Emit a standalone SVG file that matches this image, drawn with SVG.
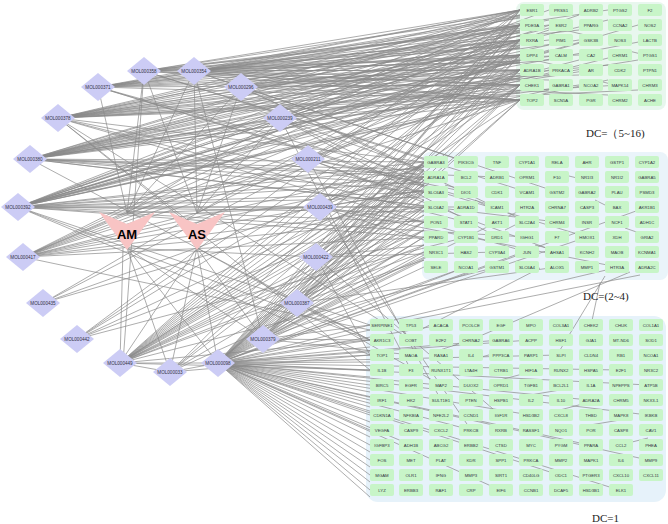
<svg xmlns="http://www.w3.org/2000/svg" width="668" height="524" viewBox="0 0 668 524">
<style>
.e{fill:none;stroke:#8a8a8a;stroke-width:0.7}
.b rect{fill:#c8f5c8}
.b text{font-family:"Liberation Sans",Arial,sans-serif;font-size:4.3px;fill:#334;text-anchor:middle}
.m polygon{fill:#ccccf5}
.m text{font-family:"Liberation Sans",Arial,sans-serif;font-size:4.6px;fill:#334;text-anchor:middle}
.h polygon{fill:#f8c4c4}
.h text{font-family:"Liberation Sans",Arial,sans-serif;font-size:13px;font-weight:bold;fill:#000;text-anchor:middle}
.dc{font-family:"Liberation Serif","Times New Roman",serif;font-size:11px;fill:#222}
</style>
<rect width="668" height="524" fill="#fff"/>
<rect x="516" y="2" width="150" height="108" rx="8" fill="#e8f7ee"/>
<rect x="422" y="152" width="246" height="128" rx="8" fill="#eaf4fa"/>
<rect x="366" y="316" width="300" height="186" rx="12" fill="#e6f2fa"/>
<g id="edges">
<path class="e" d="M18 207L520 10M18 207L520 25M18 207L520 40M18 207L520 55M18 207L520 70M18 207L520 85M18 207L520 100M18 207L590 40M18 207L620 55M18 207L424 162M18 207L424 177M18 207L424 192M18 207L424 207M18 207L424 222M18 207L424 237M18 207L370 325M18 207L370 340M18 207L370 355M18 207L466 207M18 207L527 237M18 207L549 10M18 207L549 30M18 207L549 50M18 207L549 70M18 207L549 90M18 207L579 15M18 207L579 60M18 207L608 80M18 207L638 25M18 207L424 167M18 207L424 182M18 207L424 197M18 207L424 212"/>
<path class="e" d="M30 159L520 10M30 159L520 25M30 159L520 40M30 159L520 55M30 159L520 70M30 159L520 85M30 159L520 100M30 159L561 25M30 159L590 70M30 159L649 40M30 159L424 162M30 159L424 177M30 159L424 192M30 159L436 207M30 159L497 177M30 159L557 222M30 159L370 340M30 159L520 15M30 159L520 32M30 159L520 47M30 159L520 62M30 159L520 78M30 159L520 92M30 159L549 45M30 159L579 85M30 159L608 20M30 159L638 60M30 159L424 170M30 159L424 185"/>
<path class="e" d="M58 118L520 10M58 118L520 25M58 118L520 40M58 118L520 55M58 118L520 70M58 118L520 85M58 118L520 100M58 118L561 55M58 118L620 85M58 118L424 162M58 118L424 192M58 118L466 222M58 118L527 252M58 118L370 370M58 118L411 340M58 118L200 230M58 118L520 17M58 118L520 32M58 118L520 48M58 118L520 63M58 118L520 78M58 118L520 93M58 118L549 20M58 118L579 40M58 118L608 65M58 118L638 90"/>
<path class="e" d="M98 87L520 10M98 87L520 25M98 87L520 40M98 87L520 55M98 87L520 70M98 87L520 85M98 87L520 100M98 87L424 177M98 87L497 207M98 87L587 237M98 87L127 213M98 87L520 18M98 87L520 33M98 87L520 48M98 87L520 63M98 87L549 40M98 87L579 75M98 87L608 10"/>
<path class="e" d="M144 71L520 10M144 71L520 25M144 71L520 40M144 71L520 55M144 71L520 70M144 71L520 85M144 71L520 100M144 71L436 162M144 71L527 192M144 71L127 213M144 71L123 363M144 71L197 213M144 71L520 15M144 71L520 30M144 71L520 45M144 71L520 62M144 71L549 25M144 71L579 55M144 71L608 95"/>
<path class="e" d="M194 71L520 10M194 71L520 25M194 71L520 40M194 71L520 55M194 71L520 70M194 71L520 85M194 71L520 100M194 71L466 162M194 71L557 192M194 71L197 213M194 71L127 213M194 71L263 339M194 71L520 16M194 71L520 31M194 71L520 46M194 71L520 61M194 71L549 80M194 71L579 30"/>
<path class="e" d="M241 87L520 10M241 87L520 40M241 87L520 70M241 87L520 100M241 87L436 177M241 87L527 222M241 87L197 213M241 87L127 213M241 87L520 25M241 87L520 55M241 87L520 85M241 87L549 60"/>
<path class="e" d="M280 118L520 10M280 118L520 55M280 118L520 100M280 118L436 192M280 118L497 237M280 118L197 213M280 118L127 213M280 118L411 370M280 118L520 30M280 118L520 75M280 118L424 170"/>
<path class="e" d="M308 159L520 25M308 159L520 70M308 159L466 192M308 159L557 252M308 159L197 213M308 159L127 213M308 159L441 400M308 159L520 45M308 159L520 90M308 159L424 180M308 159L424 200"/>
<path class="e" d="M320 207L520 40M320 207L520 85M320 207L424 222M320 207L617 267M320 207L197 213M320 207L127 213M320 207L471 430M320 207L424 165M320 207L424 190M320 207L424 240"/>
<path class="e" d="M23 257L520 10M23 257L520 25M23 257L520 40M23 257L520 55M23 257L520 70M23 257L520 85M23 257L520 100M23 257L424 177M23 257L424 207M23 257L436 237M23 257L127 213M23 257L197 213M23 257L424 165M23 257L424 190M23 257L424 220M23 257L370 330"/>
<path class="e" d="M43 303L520 25M43 303L520 55M43 303L436 162M43 303L424 192"/>
<path class="e" d="M77 339L520 10M77 339L520 40M77 339L520 70M77 339L424 177M77 339L424 207M77 339L466 237"/>
<path class="e" d="M120 363L520 10M120 363L520 25M120 363L520 40M120 363L520 55M120 363L520 70M120 363L520 85M120 363L520 100M120 363L424 162M120 363L424 177M120 363L424 192M120 363L424 207M120 363L424 222M120 363L424 252M120 363L497 267M120 363L370 340M120 363L370 370M120 363L123 248M120 363L197 248M120 363L170 372M120 363L218 363M120 363L424 170M120 363L424 185M120 363L424 215M120 363L424 230M120 363L424 245"/>
<path class="e" d="M170 372L520 25M170 372L520 70M170 372L424 177M170 372L424 222M170 372L436 252M170 372L370 355M170 372L197 248M170 372L127 248M170 372L218 363"/>
<path class="e" d="M263 339L520 10M263 339L520 40M263 339L520 85M263 339L424 192M263 339L424 237M263 339L466 267M263 339L527 207M263 339L370 325M263 339L411 355M263 339L197 248M263 339L127 248M263 339L424 170M263 339L424 210M263 339L424 255M263 339L370 340"/>
<path class="e" d="M297 303L520 55M297 303L520 100M297 303L424 207M297 303L557 267M297 303L370 340M297 303L441 385M297 303L197 248M297 303L424 180M297 303L424 230M297 303L424 260"/>
<path class="e" d="M316 257L520 25M316 257L520 85M316 257L424 162M316 257L497 252M316 257L370 355M316 257L500 415M316 257L127 248M316 257L424 200M316 257L424 245"/>
<path class="e" d="M218 363L520 10M218 363L520 40M218 363L520 70M218 363L520 100M218 363L424 162M218 363L424 177M218 363L424 192M218 363L424 207M218 363L424 222M218 363L424 237M218 363L424 252M218 363L424 267M218 363L466 267M218 363L527 252M218 363L587 237M218 363L647 207M218 363L370 325M218 363L370 340M218 363L370 355M218 363L370 370M218 363L370 385M218 363L370 400M218 363L370 415M218 363L370 430M218 363L370 445M218 363L370 460M218 363L370 475M218 363L370 490M218 363L441 325M218 363L500 340M218 363L559 355M218 363L619 370M218 363L648 385M218 363L589 400M218 363L530 415M218 363L471 430M218 363L411 445M218 363L648 460M218 363L559 475M218 363L500 490M218 363L619 490M218 363L648 415M218 363L530 340M218 363L589 445M218 363L197 248M218 363L127 248M218 363L370 330M218 363L370 347M218 363L370 362M218 363L370 377M218 363L370 392M218 363L370 407M218 363L370 422M218 363L370 437M218 363L370 452M218 363L370 467M218 363L370 482M218 363L370 497M218 363L424 170M218 363L424 185M218 363L424 200M218 363L424 215M218 363L424 230M218 363L424 245M218 363L424 260M218 363L520 25M218 363L520 55M218 363L520 85"/>
<path class="e" d="M394 320L619 267M400 322L640 275M420 330L540 268M480 336L630 272M560 350L605 276M590 330L600 283M440 350L470 340M470 360L500 352M500 380L530 372M530 395L560 390M560 410L590 402M590 425L620 420M620 445L648 438M445 185L465 190M475 200L495 210M505 230L525 220M535 245L555 250M565 175L585 180M595 200L615 210M625 228L645 235M535 60L555 65M565 30L585 35M595 80L615 85M625 50L645 55"/>
</g>
<g id="AM" class="h"><polygon points="99,212 127,224 155,212 127,250"/><text x="127" y="239">AM</text></g>
<g id="AS" class="h"><polygon points="169,212 197,224 225,212 197,250"/><text x="197" y="239">AS</text></g>
<g id="mol" class="m">
<g id="MOL000358"><polygon points="144,57 161,71 144,85 127,71"/><text x="144" y="72.5">MOL000358</text></g>
<g id="MOL000354"><polygon points="194,57 211,71 194,85 177,71"/><text x="194" y="72.5">MOL000354</text></g>
<g id="MOL000371"><polygon points="98,73 115,87 98,101 81,87"/><text x="98" y="88.5">MOL000371</text></g>
<g id="MOL000296"><polygon points="241,73 258,87 241,101 224,87"/><text x="241" y="88.5">MOL000296</text></g>
<g id="MOL000378"><polygon points="58,104 75,118 58,132 41,118"/><text x="58" y="119.5">MOL000378</text></g>
<g id="MOL000239"><polygon points="280,104 297,118 280,132 263,118"/><text x="280" y="119.5">MOL000239</text></g>
<g id="MOL000380"><polygon points="30,145 47,159 30,173 13,159"/><text x="30" y="160.5">MOL000380</text></g>
<g id="MOL000211"><polygon points="308,145 325,159 308,173 291,159"/><text x="308" y="160.5">MOL000211</text></g>
<g id="MOL000392"><polygon points="18,193 35,207 18,221 1,207"/><text x="18" y="208.5">MOL000392</text></g>
<g id="MOL000439"><polygon points="320,193 337,207 320,221 303,207"/><text x="320" y="208.5">MOL000439</text></g>
<g id="MOL000417"><polygon points="23,243 40,257 23,271 6,257"/><text x="23" y="258.5">MOL000417</text></g>
<g id="MOL000422"><polygon points="316,243 333,257 316,271 299,257"/><text x="316" y="258.5">MOL000422</text></g>
<g id="MOL000435"><polygon points="43,289 60,303 43,317 26,303"/><text x="43" y="304.5">MOL000435</text></g>
<g id="MOL000387"><polygon points="297,289 314,303 297,317 280,303"/><text x="297" y="304.5">MOL000387</text></g>
<g id="MOL000442"><polygon points="77,325 94,339 77,353 60,339"/><text x="77" y="340.5">MOL000442</text></g>
<g id="MOL000379"><polygon points="263,325 280,339 263,353 246,339"/><text x="263" y="340.5">MOL000379</text></g>
<g id="MOL000449"><polygon points="120,349 137,363 120,377 103,363"/><text x="120" y="364.5">MOL000449</text></g>
<g id="MOL000033"><polygon points="170,358 187,372 170,386 153,372"/><text x="170" y="373.5">MOL000033</text></g>
<g id="MOL000098"><polygon points="218,349 235,363 218,377 201,363"/><text x="218" y="364.5">MOL000098</text></g>
</g>
<g id="top" class="b">
<g id="ESR1"><rect x="520" y="4" width="24" height="12" rx="2"/><text x="532" y="11.5">ESR1</text></g>
<g id="PRSS1"><rect x="549" y="4" width="24" height="12" rx="2"/><text x="561" y="11.5">PRSS1</text></g>
<g id="ADRB2"><rect x="579" y="4" width="24" height="12" rx="2"/><text x="591" y="11.5">ADRB2</text></g>
<g id="PTGS2"><rect x="608" y="4" width="24" height="12" rx="2"/><text x="620" y="11.5">PTGS2</text></g>
<g id="F2"><rect x="638" y="4" width="24" height="12" rx="2"/><text x="650" y="11.5">F2</text></g>
<g id="PDE3A"><rect x="520" y="19" width="24" height="12" rx="2"/><text x="532" y="26.5">PDE3A</text></g>
<g id="ESR2"><rect x="549" y="19" width="24" height="12" rx="2"/><text x="561" y="26.5">ESR2</text></g>
<g id="PPARG"><rect x="579" y="19" width="24" height="12" rx="2"/><text x="591" y="26.5">PPARG</text></g>
<g id="CCNA2"><rect x="608" y="19" width="24" height="12" rx="2"/><text x="620" y="26.5">CCNA2</text></g>
<g id="NOS2"><rect x="638" y="19" width="24" height="12" rx="2"/><text x="650" y="26.5">NOS2</text></g>
<g id="RXRA"><rect x="520" y="34" width="24" height="12" rx="2"/><text x="532" y="41.5">RXRA</text></g>
<g id="PIM1"><rect x="549" y="34" width="24" height="12" rx="2"/><text x="561" y="41.5">PIM1</text></g>
<g id="GSK3B"><rect x="579" y="34" width="24" height="12" rx="2"/><text x="591" y="41.5">GSK3B</text></g>
<g id="NOS3"><rect x="608" y="34" width="24" height="12" rx="2"/><text x="620" y="41.5">NOS3</text></g>
<g id="LACTB"><rect x="638" y="34" width="24" height="12" rx="2"/><text x="650" y="41.5">LACTB</text></g>
<g id="DPP4"><rect x="520" y="49" width="24" height="12" rx="2"/><text x="532" y="56.5">DPP4</text></g>
<g id="CALM"><rect x="549" y="49" width="24" height="12" rx="2"/><text x="561" y="56.5">CALM</text></g>
<g id="CA2"><rect x="579" y="49" width="24" height="12" rx="2"/><text x="591" y="56.5">CA2</text></g>
<g id="CHRM1"><rect x="608" y="49" width="24" height="12" rx="2"/><text x="620" y="56.5">CHRM1</text></g>
<g id="PTGS1"><rect x="638" y="49" width="24" height="12" rx="2"/><text x="650" y="56.5">PTGS1</text></g>
<g id="ADRA1B"><rect x="520" y="64" width="24" height="12" rx="2"/><text x="532" y="71.5">ADRA1B</text></g>
<g id="PRKACA"><rect x="549" y="64" width="24" height="12" rx="2"/><text x="561" y="71.5">PRKACA</text></g>
<g id="AR"><rect x="579" y="64" width="24" height="12" rx="2"/><text x="591" y="71.5">AR</text></g>
<g id="CDK2"><rect x="608" y="64" width="24" height="12" rx="2"/><text x="620" y="71.5">CDK2</text></g>
<g id="PTPN1"><rect x="638" y="64" width="24" height="12" rx="2"/><text x="650" y="71.5">PTPN1</text></g>
<g id="CHEK1"><rect x="520" y="79" width="24" height="12" rx="2"/><text x="532" y="86.5">CHEK1</text></g>
<g id="GABRA1"><rect x="549" y="79" width="24" height="12" rx="2"/><text x="561" y="86.5">GABRA1</text></g>
<g id="NCOA2"><rect x="579" y="79" width="24" height="12" rx="2"/><text x="591" y="86.5">NCOA2</text></g>
<g id="MAPK14"><rect x="608" y="79" width="24" height="12" rx="2"/><text x="620" y="86.5">MAPK14</text></g>
<g id="CHRM3"><rect x="638" y="79" width="24" height="12" rx="2"/><text x="650" y="86.5">CHRM3</text></g>
<g id="TOP2"><rect x="520" y="94" width="24" height="12" rx="2"/><text x="532" y="101.5">TOP2</text></g>
<g id="SCN5A"><rect x="549" y="94" width="24" height="12" rx="2"/><text x="561" y="101.5">SCN5A</text></g>
<g id="PGR"><rect x="579" y="94" width="24" height="12" rx="2"/><text x="591" y="101.5">PGR</text></g>
<g id="CHRM2"><rect x="608" y="94" width="24" height="12" rx="2"/><text x="620" y="101.5">CHRM2</text></g>
<g id="ACHE"><rect x="638" y="94" width="24" height="12" rx="2"/><text x="650" y="101.5">ACHE</text></g>
</g>
<g id="mid" class="b">
<g><rect x="424" y="156" width="24" height="12" rx="2"/><text x="436" y="163.5">GABRA3</text></g>
<g><rect x="454" y="156" width="24" height="12" rx="2"/><text x="466" y="163.5">PIK3CG</text></g>
<g><rect x="485" y="156" width="24" height="12" rx="2"/><text x="497" y="163.5">TNF</text></g>
<g><rect x="515" y="156" width="24" height="12" rx="2"/><text x="527" y="163.5">CYP1A1</text></g>
<g><rect x="545" y="156" width="24" height="12" rx="2"/><text x="557" y="163.5">RELA</text></g>
<g><rect x="575" y="156" width="24" height="12" rx="2"/><text x="587" y="163.5">AHR</text></g>
<g><rect x="605" y="156" width="24" height="12" rx="2"/><text x="617" y="163.5">GSTP1</text></g>
<g><rect x="635" y="156" width="24" height="12" rx="2"/><text x="647" y="163.5">CYP1A2</text></g>
<g><rect x="424" y="171" width="24" height="12" rx="2"/><text x="436" y="178.5">ADRA1A</text></g>
<g><rect x="454" y="171" width="24" height="12" rx="2"/><text x="466" y="178.5">BCL2</text></g>
<g><rect x="485" y="171" width="24" height="12" rx="2"/><text x="497" y="178.5">ADRB1</text></g>
<g><rect x="515" y="171" width="24" height="12" rx="2"/><text x="527" y="178.5">OPRM1</text></g>
<g><rect x="545" y="171" width="24" height="12" rx="2"/><text x="557" y="178.5">F10</text></g>
<g><rect x="575" y="171" width="24" height="12" rx="2"/><text x="587" y="178.5">NR1I3</text></g>
<g><rect x="605" y="171" width="24" height="12" rx="2"/><text x="617" y="178.5">NR1I2</text></g>
<g><rect x="635" y="171" width="24" height="12" rx="2"/><text x="647" y="178.5">GABRA5</text></g>
<g><rect x="424" y="186" width="24" height="12" rx="2"/><text x="436" y="193.5">SLC6A3</text></g>
<g><rect x="454" y="186" width="24" height="12" rx="2"/><text x="466" y="193.5">DIO1</text></g>
<g><rect x="485" y="186" width="24" height="12" rx="2"/><text x="497" y="193.5">CDK1</text></g>
<g><rect x="515" y="186" width="24" height="12" rx="2"/><text x="527" y="193.5">VCAM1</text></g>
<g><rect x="545" y="186" width="24" height="12" rx="2"/><text x="557" y="193.5">GSTM2</text></g>
<g><rect x="575" y="186" width="24" height="12" rx="2"/><text x="587" y="193.5">GABRA2</text></g>
<g><rect x="605" y="186" width="24" height="12" rx="2"/><text x="617" y="193.5">PLAU</text></g>
<g><rect x="635" y="186" width="24" height="12" rx="2"/><text x="647" y="193.5">PSMD3</text></g>
<g><rect x="424" y="201" width="24" height="12" rx="2"/><text x="436" y="208.5">SLC6A2</text></g>
<g><rect x="454" y="201" width="24" height="12" rx="2"/><text x="466" y="208.5">ADRA1D</text></g>
<g><rect x="485" y="201" width="24" height="12" rx="2"/><text x="497" y="208.5">ICAM1</text></g>
<g><rect x="515" y="201" width="24" height="12" rx="2"/><text x="527" y="208.5">HTR2A</text></g>
<g><rect x="545" y="201" width="24" height="12" rx="2"/><text x="557" y="208.5">CHRNA7</text></g>
<g><rect x="575" y="201" width="24" height="12" rx="2"/><text x="587" y="208.5">CASP3</text></g>
<g><rect x="605" y="201" width="24" height="12" rx="2"/><text x="617" y="208.5">BAX</text></g>
<g><rect x="635" y="201" width="24" height="12" rx="2"/><text x="647" y="208.5">AKR1B1</text></g>
<g><rect x="424" y="216" width="24" height="12" rx="2"/><text x="436" y="223.5">PON1</text></g>
<g><rect x="454" y="216" width="24" height="12" rx="2"/><text x="466" y="223.5">STAT1</text></g>
<g><rect x="485" y="216" width="24" height="12" rx="2"/><text x="497" y="223.5">AKT1</text></g>
<g><rect x="515" y="216" width="24" height="12" rx="2"/><text x="527" y="223.5">SLC2A4</text></g>
<g><rect x="545" y="216" width="24" height="12" rx="2"/><text x="557" y="223.5">CHRM4</text></g>
<g><rect x="575" y="216" width="24" height="12" rx="2"/><text x="587" y="223.5">INSR</text></g>
<g><rect x="605" y="216" width="24" height="12" rx="2"/><text x="617" y="223.5">NCF1</text></g>
<g><rect x="635" y="216" width="24" height="12" rx="2"/><text x="647" y="223.5">ADH1C</text></g>
<g><rect x="424" y="231" width="24" height="12" rx="2"/><text x="436" y="238.5">PPARD</text></g>
<g><rect x="454" y="231" width="24" height="12" rx="2"/><text x="466" y="238.5">CYP1B1</text></g>
<g><rect x="485" y="231" width="24" height="12" rx="2"/><text x="497" y="238.5">DRD1</text></g>
<g><rect x="515" y="231" width="24" height="12" rx="2"/><text x="527" y="238.5">IGHG1</text></g>
<g><rect x="545" y="231" width="24" height="12" rx="2"/><text x="557" y="238.5">F7</text></g>
<g><rect x="575" y="231" width="24" height="12" rx="2"/><text x="587" y="238.5">HMOX1</text></g>
<g><rect x="605" y="231" width="24" height="12" rx="2"/><text x="617" y="238.5">XDH</text></g>
<g><rect x="635" y="231" width="24" height="12" rx="2"/><text x="647" y="238.5">GRIA2</text></g>
<g><rect x="424" y="246" width="24" height="12" rx="2"/><text x="436" y="253.5">NR3C1</text></g>
<g><rect x="454" y="246" width="24" height="12" rx="2"/><text x="466" y="253.5">HAS2</text></g>
<g><rect x="485" y="246" width="24" height="12" rx="2"/><text x="497" y="253.5">CYP3A4</text></g>
<g><rect x="515" y="246" width="24" height="12" rx="2"/><text x="527" y="253.5">JUN</text></g>
<g><rect x="545" y="246" width="24" height="12" rx="2"/><text x="557" y="253.5">AHSA1</text></g>
<g><rect x="575" y="246" width="24" height="12" rx="2"/><text x="587" y="253.5">KCNH2</text></g>
<g><rect x="605" y="246" width="24" height="12" rx="2"/><text x="617" y="253.5">MAOB</text></g>
<g><rect x="635" y="246" width="24" height="12" rx="2"/><text x="647" y="253.5">KCNMA1</text></g>
<g><rect x="424" y="261" width="24" height="12" rx="2"/><text x="436" y="268.5">SELE</text></g>
<g><rect x="454" y="261" width="24" height="12" rx="2"/><text x="466" y="268.5">NCOA1</text></g>
<g><rect x="485" y="261" width="24" height="12" rx="2"/><text x="497" y="268.5">GSTM1</text></g>
<g><rect x="515" y="261" width="24" height="12" rx="2"/><text x="527" y="268.5">SLC6A4</text></g>
<g><rect x="545" y="261" width="24" height="12" rx="2"/><text x="557" y="268.5">ALOX5</text></g>
<g><rect x="575" y="261" width="24" height="12" rx="2"/><text x="587" y="268.5">MMP1</text></g>
<g><rect x="605" y="261" width="24" height="12" rx="2"/><text x="617" y="268.5">HTR3A</text></g>
<g><rect x="635" y="261" width="24" height="12" rx="2"/><text x="647" y="268.5">ADRA2C</text></g>
</g>
<g id="bot" class="b">
<g><rect x="370" y="319" width="24" height="12" rx="2"/><text x="382" y="326.5">SERPINE1</text></g>
<g><rect x="399" y="319" width="24" height="12" rx="2"/><text x="411" y="326.5">TP53</text></g>
<g><rect x="429" y="319" width="24" height="12" rx="2"/><text x="441" y="326.5">ACACA</text></g>
<g><rect x="459" y="319" width="24" height="12" rx="2"/><text x="471" y="326.5">PCOLCE</text></g>
<g><rect x="489" y="319" width="24" height="12" rx="2"/><text x="501" y="326.5">EGF</text></g>
<g><rect x="519" y="319" width="24" height="12" rx="2"/><text x="531" y="326.5">MPO</text></g>
<g><rect x="549" y="319" width="24" height="12" rx="2"/><text x="561" y="326.5">COL3A1</text></g>
<g><rect x="579" y="319" width="24" height="12" rx="2"/><text x="591" y="326.5">CHEK2</text></g>
<g><rect x="609" y="319" width="24" height="12" rx="2"/><text x="621" y="326.5">CHUK</text></g>
<g><rect x="639" y="319" width="24" height="12" rx="2"/><text x="651" y="326.5">COL1A1</text></g>
<g><rect x="370" y="334" width="24" height="12" rx="2"/><text x="382" y="341.5">AKR1C3</text></g>
<g><rect x="399" y="334" width="24" height="12" rx="2"/><text x="411" y="341.5">COBT</text></g>
<g><rect x="429" y="334" width="24" height="12" rx="2"/><text x="441" y="341.5">E2F2</text></g>
<g><rect x="459" y="334" width="24" height="12" rx="2"/><text x="471" y="341.5">CHRNA2</text></g>
<g><rect x="489" y="334" width="24" height="12" rx="2"/><text x="501" y="341.5">GABRA6</text></g>
<g><rect x="519" y="334" width="24" height="12" rx="2"/><text x="531" y="341.5">ACPP</text></g>
<g><rect x="549" y="334" width="24" height="12" rx="2"/><text x="561" y="341.5">HSF1</text></g>
<g><rect x="579" y="334" width="24" height="12" rx="2"/><text x="591" y="341.5">GJA1</text></g>
<g><rect x="609" y="334" width="24" height="12" rx="2"/><text x="621" y="341.5">MT-ND6</text></g>
<g><rect x="639" y="334" width="24" height="12" rx="2"/><text x="651" y="341.5">SOD1</text></g>
<g><rect x="370" y="349" width="24" height="12" rx="2"/><text x="382" y="356.5">TOP1</text></g>
<g><rect x="399" y="349" width="24" height="12" rx="2"/><text x="411" y="356.5">MAOA</text></g>
<g><rect x="429" y="349" width="24" height="12" rx="2"/><text x="441" y="356.5">RASA1</text></g>
<g><rect x="459" y="349" width="24" height="12" rx="2"/><text x="471" y="356.5">IL4</text></g>
<g><rect x="489" y="349" width="24" height="12" rx="2"/><text x="501" y="356.5">PPP3CA</text></g>
<g><rect x="519" y="349" width="24" height="12" rx="2"/><text x="531" y="356.5">PARP1</text></g>
<g><rect x="549" y="349" width="24" height="12" rx="2"/><text x="561" y="356.5">SLPI</text></g>
<g><rect x="579" y="349" width="24" height="12" rx="2"/><text x="591" y="356.5">CLDN4</text></g>
<g><rect x="609" y="349" width="24" height="12" rx="2"/><text x="621" y="356.5">RB1</text></g>
<g><rect x="639" y="349" width="24" height="12" rx="2"/><text x="651" y="356.5">NCOA1</text></g>
<g><rect x="370" y="364" width="24" height="12" rx="2"/><text x="382" y="371.5">IL1B</text></g>
<g><rect x="399" y="364" width="24" height="12" rx="2"/><text x="411" y="371.5">F3</text></g>
<g><rect x="429" y="364" width="24" height="12" rx="2"/><text x="441" y="371.5">RUNX1T1</text></g>
<g><rect x="459" y="364" width="24" height="12" rx="2"/><text x="471" y="371.5">LTA4H</text></g>
<g><rect x="489" y="364" width="24" height="12" rx="2"/><text x="501" y="371.5">CTRB1</text></g>
<g><rect x="519" y="364" width="24" height="12" rx="2"/><text x="531" y="371.5">HIF1A</text></g>
<g><rect x="549" y="364" width="24" height="12" rx="2"/><text x="561" y="371.5">RUNX2</text></g>
<g><rect x="579" y="364" width="24" height="12" rx="2"/><text x="591" y="371.5">HSPA5</text></g>
<g><rect x="609" y="364" width="24" height="12" rx="2"/><text x="621" y="371.5">E2F1</text></g>
<g><rect x="639" y="364" width="24" height="12" rx="2"/><text x="651" y="371.5">NR3C2</text></g>
<g><rect x="370" y="379" width="24" height="12" rx="2"/><text x="382" y="386.5">BIRC5</text></g>
<g><rect x="399" y="379" width="24" height="12" rx="2"/><text x="411" y="386.5">EGFR</text></g>
<g><rect x="429" y="379" width="24" height="12" rx="2"/><text x="441" y="386.5">MAP2</text></g>
<g><rect x="459" y="379" width="24" height="12" rx="2"/><text x="471" y="386.5">DUOX2</text></g>
<g><rect x="489" y="379" width="24" height="12" rx="2"/><text x="501" y="386.5">OPRD1</text></g>
<g><rect x="519" y="379" width="24" height="12" rx="2"/><text x="531" y="386.5">TGFB1</text></g>
<g><rect x="549" y="379" width="24" height="12" rx="2"/><text x="561" y="386.5">BCL2L1</text></g>
<g><rect x="579" y="379" width="24" height="12" rx="2"/><text x="591" y="386.5">IL1A</text></g>
<g><rect x="609" y="379" width="24" height="12" rx="2"/><text x="621" y="386.5">NPEPPS</text></g>
<g><rect x="639" y="379" width="24" height="12" rx="2"/><text x="651" y="386.5">ATP5B</text></g>
<g><rect x="370" y="394" width="24" height="12" rx="2"/><text x="382" y="401.5">IRF1</text></g>
<g><rect x="399" y="394" width="24" height="12" rx="2"/><text x="411" y="401.5">HK2</text></g>
<g><rect x="429" y="394" width="24" height="12" rx="2"/><text x="441" y="401.5">SULT1E1</text></g>
<g><rect x="459" y="394" width="24" height="12" rx="2"/><text x="471" y="401.5">PTEN</text></g>
<g><rect x="489" y="394" width="24" height="12" rx="2"/><text x="501" y="401.5">HSPB1</text></g>
<g><rect x="519" y="394" width="24" height="12" rx="2"/><text x="531" y="401.5">IL2</text></g>
<g><rect x="549" y="394" width="24" height="12" rx="2"/><text x="561" y="401.5">IL10</text></g>
<g><rect x="579" y="394" width="24" height="12" rx="2"/><text x="591" y="401.5">ADRA2A</text></g>
<g><rect x="609" y="394" width="24" height="12" rx="2"/><text x="621" y="401.5">CHRM5</text></g>
<g><rect x="639" y="394" width="24" height="12" rx="2"/><text x="651" y="401.5">NKX3-1</text></g>
<g><rect x="370" y="409" width="24" height="12" rx="2"/><text x="382" y="416.5">CDKN1A</text></g>
<g><rect x="399" y="409" width="24" height="12" rx="2"/><text x="411" y="416.5">NFKBIA</text></g>
<g><rect x="429" y="409" width="24" height="12" rx="2"/><text x="441" y="416.5">NFE2L2</text></g>
<g><rect x="459" y="409" width="24" height="12" rx="2"/><text x="471" y="416.5">CCND1</text></g>
<g><rect x="489" y="409" width="24" height="12" rx="2"/><text x="501" y="416.5">IGF1R</text></g>
<g><rect x="519" y="409" width="24" height="12" rx="2"/><text x="531" y="416.5">HSD3B2</text></g>
<g><rect x="549" y="409" width="24" height="12" rx="2"/><text x="561" y="416.5">CXCL8</text></g>
<g><rect x="579" y="409" width="24" height="12" rx="2"/><text x="591" y="416.5">THBD</text></g>
<g><rect x="609" y="409" width="24" height="12" rx="2"/><text x="621" y="416.5">MAPK8</text></g>
<g><rect x="639" y="409" width="24" height="12" rx="2"/><text x="651" y="416.5">IKBKB</text></g>
<g><rect x="370" y="424" width="24" height="12" rx="2"/><text x="382" y="431.5">VEGFA</text></g>
<g><rect x="399" y="424" width="24" height="12" rx="2"/><text x="411" y="431.5">CASP9</text></g>
<g><rect x="429" y="424" width="24" height="12" rx="2"/><text x="441" y="431.5">CXCL2</text></g>
<g><rect x="459" y="424" width="24" height="12" rx="2"/><text x="471" y="431.5">PRKCB</text></g>
<g><rect x="489" y="424" width="24" height="12" rx="2"/><text x="501" y="431.5">RXRB</text></g>
<g><rect x="519" y="424" width="24" height="12" rx="2"/><text x="531" y="431.5">RASSF1</text></g>
<g><rect x="549" y="424" width="24" height="12" rx="2"/><text x="561" y="431.5">NQO1</text></g>
<g><rect x="579" y="424" width="24" height="12" rx="2"/><text x="591" y="431.5">POR</text></g>
<g><rect x="609" y="424" width="24" height="12" rx="2"/><text x="621" y="431.5">CASP8</text></g>
<g><rect x="639" y="424" width="24" height="12" rx="2"/><text x="651" y="431.5">CAV1</text></g>
<g><rect x="370" y="439" width="24" height="12" rx="2"/><text x="382" y="446.5">IGFBP3</text></g>
<g><rect x="399" y="439" width="24" height="12" rx="2"/><text x="411" y="446.5">ADH1B</text></g>
<g><rect x="429" y="439" width="24" height="12" rx="2"/><text x="441" y="446.5">ABCG2</text></g>
<g><rect x="459" y="439" width="24" height="12" rx="2"/><text x="471" y="446.5">ERBB2</text></g>
<g><rect x="489" y="439" width="24" height="12" rx="2"/><text x="501" y="446.5">CTSD</text></g>
<g><rect x="519" y="439" width="24" height="12" rx="2"/><text x="531" y="446.5">MYC</text></g>
<g><rect x="549" y="439" width="24" height="12" rx="2"/><text x="561" y="446.5">PYGM</text></g>
<g><rect x="579" y="439" width="24" height="12" rx="2"/><text x="591" y="446.5">PPARA</text></g>
<g><rect x="609" y="439" width="24" height="12" rx="2"/><text x="621" y="446.5">CCL2</text></g>
<g><rect x="639" y="439" width="24" height="12" rx="2"/><text x="651" y="446.5">PHEA</text></g>
<g><rect x="370" y="454" width="24" height="12" rx="2"/><text x="382" y="461.5">FOS</text></g>
<g><rect x="399" y="454" width="24" height="12" rx="2"/><text x="411" y="461.5">MET</text></g>
<g><rect x="429" y="454" width="24" height="12" rx="2"/><text x="441" y="461.5">PLAT</text></g>
<g><rect x="459" y="454" width="24" height="12" rx="2"/><text x="471" y="461.5">KDR</text></g>
<g><rect x="489" y="454" width="24" height="12" rx="2"/><text x="501" y="461.5">SPP1</text></g>
<g><rect x="519" y="454" width="24" height="12" rx="2"/><text x="531" y="461.5">PRKCA</text></g>
<g><rect x="549" y="454" width="24" height="12" rx="2"/><text x="561" y="461.5">MMP2</text></g>
<g><rect x="579" y="454" width="24" height="12" rx="2"/><text x="591" y="461.5">MAPK1</text></g>
<g><rect x="609" y="454" width="24" height="12" rx="2"/><text x="621" y="461.5">IL6</text></g>
<g><rect x="639" y="454" width="24" height="12" rx="2"/><text x="651" y="461.5">MMP9</text></g>
<g><rect x="370" y="469" width="24" height="12" rx="2"/><text x="382" y="476.5">MGAM</text></g>
<g><rect x="399" y="469" width="24" height="12" rx="2"/><text x="411" y="476.5">OLR1</text></g>
<g><rect x="429" y="469" width="24" height="12" rx="2"/><text x="441" y="476.5">IFNG</text></g>
<g><rect x="459" y="469" width="24" height="12" rx="2"/><text x="471" y="476.5">MMP3</text></g>
<g><rect x="489" y="469" width="24" height="12" rx="2"/><text x="501" y="476.5">SIRT1</text></g>
<g><rect x="519" y="469" width="24" height="12" rx="2"/><text x="531" y="476.5">CD40LG</text></g>
<g><rect x="549" y="469" width="24" height="12" rx="2"/><text x="561" y="476.5">ODC1</text></g>
<g><rect x="579" y="469" width="24" height="12" rx="2"/><text x="591" y="476.5">PTGER3</text></g>
<g><rect x="609" y="469" width="24" height="12" rx="2"/><text x="621" y="476.5">CXCL10</text></g>
<g><rect x="639" y="469" width="24" height="12" rx="2"/><text x="651" y="476.5">CXCL11</text></g>
<g><rect x="370" y="484" width="24" height="12" rx="2"/><text x="382" y="491.5">LYZ</text></g>
<g><rect x="399" y="484" width="24" height="12" rx="2"/><text x="411" y="491.5">ERBB3</text></g>
<g><rect x="429" y="484" width="24" height="12" rx="2"/><text x="441" y="491.5">RAF1</text></g>
<g><rect x="459" y="484" width="24" height="12" rx="2"/><text x="471" y="491.5">CRP</text></g>
<g><rect x="489" y="484" width="24" height="12" rx="2"/><text x="501" y="491.5">EIF6</text></g>
<g><rect x="519" y="484" width="24" height="12" rx="2"/><text x="531" y="491.5">CCNB1</text></g>
<g><rect x="549" y="484" width="24" height="12" rx="2"/><text x="561" y="491.5">DCAF5</text></g>
<g><rect x="579" y="484" width="24" height="12" rx="2"/><text x="591" y="491.5">HSD3B1</text></g>
<g><rect x="609" y="484" width="24" height="12" rx="2"/><text x="621" y="491.5">ELK1</text></g>
</g>
<text class="dc" x="586" y="137">DC=（5~16)</text>
<text class="dc" x="583" y="300">DC=(2~4)</text>
<text class="dc" x="592" y="522">DC=1</text>
</svg>
